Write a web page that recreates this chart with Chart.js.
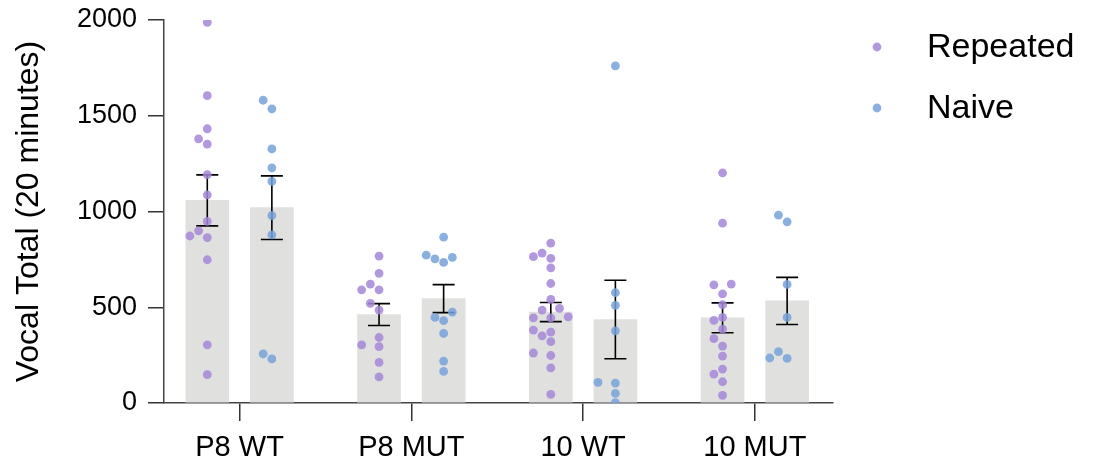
<!DOCTYPE html>
<html>
<head>
<meta charset="utf-8">
<script src="https://cdn.jsdelivr.net/npm/chart.js@4.4.1/dist/chart.umd.min.js"></script>
<style>
  html, body { margin: 0; padding: 0; background: #fff; }
  #wrap { width: 1094px; height: 468px; }
</style>
</head>
<body>
<div id="wrap"><canvas id="vocalChart" width="1094" height="468"></canvas></div>
<script>
// -----------------------------------------------------------------------------
// DATA
// -----------------------------------------------------------------------------
const categories = ['P8 WT', 'P8 MUT', '10 WT', '10 MUT'];
const seriesNames = ['Repeated', 'Naive'];

// bar heights (group means) and error bars (SEM)
const repeatedMean = [1058, 462, 475, 445];
const repeatedSem  = [133, 57, 50, 78];
const naiveMean    = [1020, 545, 436, 533];
const naiveSem     = [166, 73, 205, 123];

// individual animals
const repeatedP8WT  = [1988, 1605, 1432, 1379, 1352, 1193, 1087, 948, 899, 872, 864, 748, 304, 148];
const repeatedP8MUT = [767, 677, 621, 591, 591, 520, 485, 342, 304, 294, 212, 136];
const repeated10WT  = [835, 783, 764, 755, 706, 624, 541, 494, 485, 450, 445, 444, 381, 370, 351, 320, 261, 248, 183, 45];
const repeated10MUT = [1202, 939, 621, 617, 570, 513, 447, 431, 386, 336, 297, 245, 177, 151, 111, 40];

const naiveP8WT  = [1581, 1536, 1327, 1228, 1157, 979, 878, 256, 230];
const naiveP8MUT = [866, 772, 760, 753, 734, 475, 447, 430, 363, 219, 165];
const naive10WT  = [1760, 576, 510, 377, 108, 104, 50, 2];
const naive10MUT = [981, 946, 619, 447, 268, 235, 233];

const yTicks = [0, 500, 1000, 1500, 2000];

// -----------------------------------------------------------------------------
// LOOK
// -----------------------------------------------------------------------------
const BAR_GRAY = '#e0e0df';
const PURPLE = 'rgba(165, 134, 216, 0.85)';
const BLUE = 'rgba(118, 162, 219, 0.85)';
const GROUP_SHIFT = 0.188;   // bar centre offset from category centre (x units)
const DOT_R = 4.4;

// simple beeswarm: spread points sideways where they would overlap
// (works in x units / y value units, scaled to roughly the pixel ratio of the plot)
function swarm(values, centre) {
  const pxPerY = 384 / 2000, pxPerX = 171.8;
  const step = 8.7, minDist = 9.2;
  const placed = [];
  const sorted = values.slice().sort((a, b) => a - b);
  sorted.forEach(v => {
    const py = v * pxPerY;
    for (let k = 0; k < 40; k++) {
      const off = (k === 0 ? 0 : (k % 2 ? -1 : 1) * Math.ceil(k / 2)) * step;
      const ok = placed.every(p => Math.hypot(p.px - off, p.py - py) >= minDist);
      if (ok) { placed.push({ px: off, py: py, v: v }); break; }
    }
  });
  return placed.map(p => ({ x: centre + p.px / pxPerX, y: p.v }));
}

const repeatedPoints = [repeatedP8WT, repeatedP8MUT, repeated10WT, repeated10MUT];
const naivePoints = [naiveP8WT, naiveP8MUT, naive10WT, naive10MUT];

const barData = [];
const barSem = [];
categories.forEach((c, i) => {
  barData.push({ x: i - GROUP_SHIFT, y: repeatedMean[i] });
  barSem.push(repeatedSem[i]);
  barData.push({ x: i + GROUP_SHIFT, y: naiveMean[i] });
  barSem.push(naiveSem[i]);
});

let repeatedScatter = [];
let naiveScatter = [];
categories.forEach((c, i) => {
  repeatedScatter = repeatedScatter.concat(swarm(repeatedPoints[i], i - GROUP_SHIFT));
  naiveScatter = naiveScatter.concat(swarm(naivePoints[i], i + GROUP_SHIFT));
});

// error bars drawn right after the bars, under the dots
const errorBars = {
  id: 'errorBars',
  afterDatasetDraw(chart, args) {
    if (args.meta.type !== 'bar') return;
    const { ctx, scales: { x, y } } = chart;
    ctx.save();
    ctx.strokeStyle = '#000';
    ctx.lineWidth = 1.6;
    barData.forEach((d, i) => {
      const px = x.getPixelForValue(d.x);
      const top = y.getPixelForValue(d.y + barSem[i]);
      const bot = y.getPixelForValue(d.y - barSem[i]);
      ctx.beginPath();
      ctx.moveTo(px, top); ctx.lineTo(px, bot);
      ctx.moveTo(px - 11, top); ctx.lineTo(px + 11, top);
      ctx.moveTo(px - 11, bot); ctx.lineTo(px + 11, bot);
      ctx.stroke();
    });
    ctx.restore();
  }
};

// legend at the upper right: dot, wide gap, label
const sideLegend = {
  id: 'sideLegend',
  afterDraw(chart) {
    const { ctx, chartArea } = chart;
    const colours = [PURPLE, BLUE];
    ctx.save();
    ctx.font = '34px "Liberation Sans", Arial, sans-serif';
    ctx.textBaseline = 'middle';
    seriesNames.forEach((name, i) => {
      const cy = chartArea.top + 27 + i * 61;
      ctx.beginPath();
      ctx.fillStyle = colours[i];
      ctx.arc(chartArea.right + 44, cy, DOT_R, 0, Math.PI * 2);
      ctx.fill();
      ctx.fillStyle = '#000';
      ctx.fillText(name, chartArea.right + 94, cy + 1);
    });
    ctx.restore();
  }
};

Chart.defaults.font.family = '"Liberation Sans", Arial, Helvetica, sans-serif';
Chart.defaults.color = '#000';

new Chart(document.getElementById('vocalChart'), {
  type: 'bar',
  data: {
    datasets: [
      {
        type: 'scatter',
        label: seriesNames[0],
        data: repeatedScatter,
        backgroundColor: PURPLE,
        borderWidth: 0,
        pointRadius: DOT_R,
        order: 1
      },
      {
        type: 'scatter',
        label: seriesNames[1],
        data: naiveScatter,
        backgroundColor: BLUE,
        borderWidth: 0,
        pointRadius: DOT_R,
        order: 1
      },
      {
        type: 'bar',
        label: 'mean',
        data: barData,
        backgroundColor: BAR_GRAY,
        barThickness: 43,
        order: 2
      }
    ]
  },
  options: {
    responsive: false,
    animation: false,
    layout: { padding: { top: 20, right: 261, left: 0, bottom: 0 } },
    plugins: {
      legend: { display: false },
      tooltip: { enabled: false }
    },
    scales: {
      x: {
        type: 'linear',
        min: -0.44,
        max: 3.455,
        offset: false,
        afterBuildTicks: axis => { axis.ticks = categories.map((c, i) => ({ value: i })); },
        afterFit: axis => { axis.height = 65; axis.paddingLeft = 0; axis.paddingRight = 0; },
        ticks: {
          callback: v => categories[v],
          font: { size: 29 },
          padding: 10,
          maxRotation: 0,
          autoSkip: false
        },
        grid: { offset: false, drawOnChartArea: false, drawTicks: true, tickLength: 18, color: '#333', lineWidth: 1.5 },
        border: { display: true, color: '#444', width: 1.5 }
      },
      y: {
        min: 0,
        max: 2000,
        afterBuildTicks: axis => { axis.ticks = yTicks.map(v => ({ value: v })); },
        afterFit: axis => { axis.width = 164; axis.paddingTop = 0; axis.paddingBottom = 0; },
        ticks: { font: { size: 27 }, padding: 11, callback: v => String(v) },
        grid: { drawOnChartArea: false, drawTicks: true, tickLength: 16, color: '#333', lineWidth: 1.5 },
        border: { display: true, color: '#444', width: 1.5 },
        title: {
          display: true,
          text: 'Vocal Total (20 minutes)',
          font: { size: 32 },
          padding: { top: 10, bottom: 0 }
        }
      }
    }
  },
  plugins: [errorBars, sideLegend]
});
</script>
</body>
</html>
